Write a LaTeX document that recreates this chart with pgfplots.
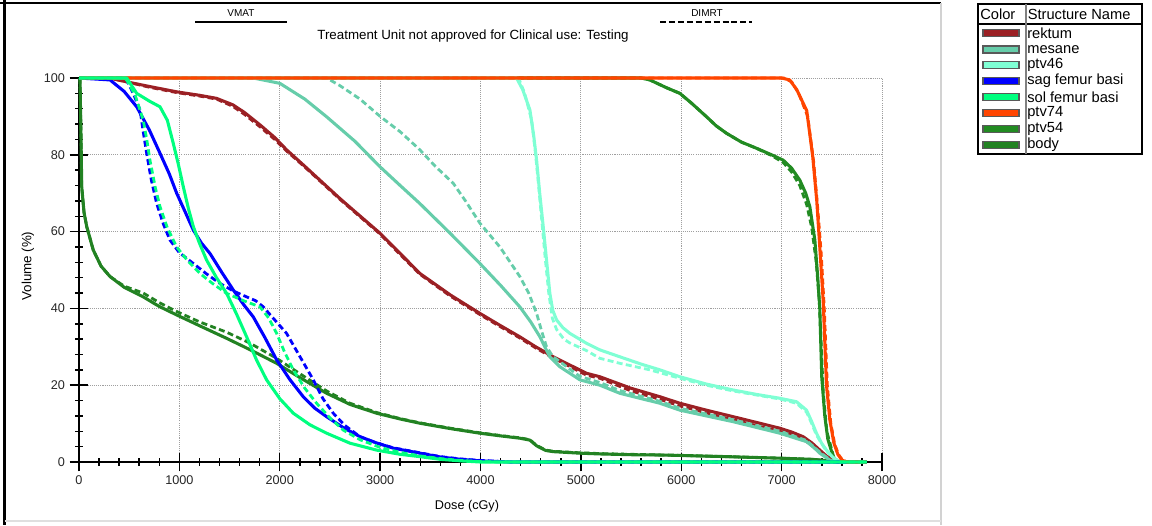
\documentclass[border=0pt]{standalone}
\usepackage{pgfplots}
\pgfplotsset{compat=1.18}
\usepackage{fontspec}
\setmainfont{Liberation Sans}

\definecolor{rektum}{RGB}{155,32,36}
\definecolor{mesane}{RGB}{102,205,170}
\definecolor{ptvfs}{RGB}{127,255,212}
\definecolor{sagf}{RGB}{0,0,255}
\definecolor{solf}{RGB}{0,255,127}
\definecolor{ptvss}{RGB}{255,69,0}
\definecolor{ptvff}{RGB}{34,139,34}
\definecolor{body}{RGB}{34,130,34}

\begin{document}
\begin{tikzpicture}
\useasboundingbox (0,0) rectangle (864pt,-393.75pt);

% ---------- dose-volume histogram ----------
\begin{axis}[
  at={(59.25pt,-346.5pt)}, anchor=south west,
  scale only axis, width=602.25pt, height=288pt,
  xmin=0, xmax=8000, ymin=0, ymax=100,
  axis lines=left, axis line style={-, line width=1.1pt, black},
  xtick={0,1000,...,8000}, ytick={0,20,...,100},
  minor x tick num=4, minor y tick num=4,
  tick align=center, major tick length=14pt, minor tick length=5.5pt,
  every tick/.style={black, line width=1.1pt},
  grid=major,
  major grid style={gray!75, line width=0.6pt, dash pattern=on 0.8pt off 0.8pt},
  ticklabel style={font=\fontsize{9.5}{10}\selectfont, text=black!85},
  /pgf/number format/assume math mode=true,
  /pgf/number format/1000 sep={},
  clip=false,
  every axis plot/.append style={line join=round, line cap=butt},
]
\pgfplotsset{
  vmat/.style={line width=2.3pt},
  dimrt/.style={line width=2.1pt, dash pattern=on 4.5pt off 2.5pt},
}

% body
\addplot[body, vmat] coordinates {(0,100)(10,99.5)(20,85)(27,71.7)(50,65)(77,61.3)(142,55.2)(220,51)(309,48.3)(450,45.5)(640,43)(800,40.5)(973,38.3)(1200,35.5)(1471,32.2)(1700,29.3)(1969,25.7)(2200,22)(2467,17.9)(2700,15)(2965,12.7)(3200,11.2)(3396,10.1)(3700,8.7)(3994,7.5)(4200,6.8)(4392,6.2)(4492,5.7)(4560,4.2)(4650,3)(4724,2.7)(4990,2.3)(5189,2.1)(5500,1.9)(5853,1.8)(6451,1.4)(6982,1)(7300,0.7)(7480,0.3)(7560,0)(7850,0)};
\addplot[body, dimrt] coordinates {(0,100)(10,99.5)(20,85)(27,71.7)(50,65)(77,61.3)(142,55.2)(220,51)(309,48.3)(450,45.8)(640,44)(800,41.5)(973,39.2)(1200,36.5)(1471,33.8)(1700,31)(1969,27)(2200,23)(2467,18.5)(2700,15.3)(2965,12.9)(3200,11.3)(3396,10.2)(3700,8.8)(3994,7.6)(4200,6.9)(4392,6.3)(4492,5.8)(4560,4.3)(4650,3.1)(4724,2.8)(4990,2.4)(5189,2.2)(5500,2)(5853,1.8)(6451,1.4)(6982,1)(7300,0.7)(7480,0.3)(7560,0)(7850,0)};

% ptv54
\addplot[ptvff, vmat] coordinates {(0,100)(5600,100)(5687,99.5)(5850,97.5)(5986,96)(6100,93.5)(6252,89.9)(6350,87.5)(6451,85.6)(6600,83.3)(6750,81.7)(6900,80)(7016,78.6)(7100,76.5)(7181,73.4)(7240,70)(7281,66.5)(7331,57.8)(7360,48)(7380,40)(7400,22)(7430,12)(7460,6)(7513,1.4)(7560,0)(7850,0)};
\addplot[ptvff, dimrt] coordinates {(0,100)(5600,100)(5687,99.5)(5850,97.5)(5986,96)(6100,93.5)(6252,89.9)(6350,87.5)(6451,85.6)(6600,83.3)(6750,81.7)(6900,79.8)(7016,78)(7100,75.5)(7181,72)(7250,67)(7300,61)(7345,52)(7375,42)(7395,30)(7415,18)(7450,8)(7520,1.2)(7570,0)(7850,0)};

% rektum
\addplot[rektum, vmat] coordinates {(0,100)(300,100)(475,99)(700,97.8)(973,96.4)(1200,95.5)(1371,94.7)(1534,93)(1650,91)(1803,87.8)(1950,84.5)(2068,81.3)(2250,77)(2400,73.4)(2600,68.6)(2732,65.6)(2998,59.6)(3200,54.3)(3396,49.1)(3700,43.5)(3994,38.7)(4200,35.5)(4392,32.6)(4550,30)(4724,27.4)(5057,23.1)(5189,22.2)(5500,19.2)(5787,17)(5986,15.3)(6250,13.5)(6517,11.8)(6750,10.3)(6982,8.8)(7100,7.8)(7214,6.6)(7300,5)(7380,3.1)(7450,1.5)(7513,0.5)(7560,0)(7850,0)};
\addplot[rektum, dimrt] coordinates {(0,100)(300,100)(475,99)(700,97.6)(973,96.2)(1200,95.3)(1371,94.5)(1534,92.6)(1650,90.5)(1803,87.3)(1950,84)(2068,81)(2250,76.8)(2400,73.2)(2600,68.4)(2732,65.4)(2998,59.4)(3200,54)(3396,48.9)(3700,43.2)(3994,38.4)(4200,35.2)(4392,32.3)(4550,29.7)(4724,27.1)(5057,22.6)(5189,21.8)(5500,18.5)(5787,16.3)(5986,14.6)(6250,12.8)(6517,11)(6750,9.5)(6982,8)(7100,7.1)(7214,6)(7300,4.3)(7380,2.6)(7450,1.2)(7513,0.3)(7560,0)(7850,0)};

% mesane
\addplot[mesane, vmat] coordinates {(0,100)(1737,100)(2002,98.6)(2250,94.5)(2467,89.9)(2750,83.5)(2998,76.9)(3200,72)(3396,67.3)(3700,59.5)(3994,51.7)(4200,46)(4392,40.4)(4500,36.5)(4592,32.6)(4650,29.5)(4691,27.4)(4791,24.8)(4990,21.4)(5189,20)(5388,17.9)(5787,15.3)(5986,13.5)(6250,12)(6517,10.5)(6750,9)(6982,7.5)(7248,5.3)(7320,3.8)(7380,2.3)(7480,0.5)(7530,0)(7850,0)};
\addplot[mesane, dimrt] coordinates {(0,100)(2467,100)(2600,98)(2800,94.5)(3000,90)(3200,86)(3396,81.3)(3550,77)(3728,72.6)(3850,68)(3994,62.2)(4193,56)(4392,48.3)(4480,44)(4559,38.7)(4610,34)(4658,30)(4720,27.5)(4791,26.1)(4990,22.3)(5189,20.7)(5388,18.6)(5787,15.8)(5986,14)(6517,11)(6982,8)(7248,5.6)(7380,2.6)(7480,0.6)(7540,0)(7850,0)};

% ptv46
\addplot[ptvfs, vmat] coordinates {(0,100)(4359,100)(4420,97)(4492,91.7)(4530,85)(4559,78.6)(4590,70)(4625,61.3)(4660,52)(4691,43.9)(4720,39.5)(4758,37)(4820,35)(4890,33.5)(5057,30.9)(5189,29.2)(5388,27.4)(5600,25.5)(5787,24)(5986,22.2)(6250,20.3)(6517,18.75)(6750,17.6)(6982,16.6)(7148,15.7)(7248,13.5)(7300,10.5)(7347,7.5)(7400,4.8)(7447,3.1)(7500,1.5)(7546,0.5)(7600,0)(7850,0)};
\addplot[ptvfs, dimrt] coordinates {(0,100)(4380,100)(4440,96)(4510,89)(4545,81)(4575,73)(4610,63)(4645,53)(4680,44)(4715,37.5)(4758,34.5)(4830,32)(4890,31)(5057,29)(5189,27)(5388,25.7)(5687,24)(5986,21.8)(6250,20)(6517,18.5)(6982,16.4)(7148,15.3)(7248,13)(7300,10)(7347,7)(7447,2.8)(7546,0.4)(7600,0)(7850,0)};

% sag femur basi
\addplot[sagf, vmat] coordinates {(0,100)(309,99.5)(450,96.5)(575,92.5)(700,86.5)(807,80.4)(900,75)(973,70)(1060,65)(1139,60.4)(1220,57)(1305,54.3)(1420,49.5)(1537,44.8)(1640,41)(1736,37.8)(1850,32.5)(1969,26.6)(2100,21.5)(2234,17)(2350,14)(2467,11.8)(2630,9)(2799,6.6)(2960,5)(3131,3.6)(3396,2.3)(3600,1.3)(3800,0.7)(4000,0.3)(4300,0)(7850,0)};
\addplot[sagf, dimrt] coordinates {(0,100)(420,100)(475,99.5)(540,96)(608,91.7)(640,86)(674,80.4)(720,73.5)(774,67.3)(840,62)(906,57.8)(1000,54.5)(1139,51.7)(1270,49)(1404,46.5)(1540,44.5)(1670,43)(1760,42)(1836,40.4)(1950,37)(2068,33.5)(2200,27.5)(2334,21.4)(2430,16.5)(2533,12.7)(2650,9.5)(2799,6.6)(2960,5)(3131,3.7)(3396,2.4)(3600,1.4)(3800,0.8)(4000,0.4)(4300,0)(7850,0)};

% ptv74
\addplot[ptvss, vmat] coordinates {(0,100)(7000,100)(7080,99.5)(7150,97)(7250,91.5)(7310,79.5)(7350,68)(7380,56)(7414,42)(7447,20)(7480,11)(7520,5)(7560,2)(7600,0.5)(7650,0)(7850,0)};
\addplot[ptvss, dimrt] coordinates {(0,100)(7020,100)(7100,99)(7170,96)(7260,90)(7320,78)(7360,66)(7395,54)(7425,40)(7455,20)(7490,10)(7530,4.5)(7570,1.8)(7610,0.4)(7660,0)(7850,0)};

% sol femur basi
\addplot[solf, dimrt] coordinates {(0,100)(420,100)(475,99.5)(560,95.5)(640,89)(675,84)(707,78.6)(760,71.5)(807,66.5)(880,61)(973,56)(1080,52.5)(1205,49.1)(1330,46.5)(1471,43.9)(1640,42)(1803,40.4)(1890,37.5)(1969,33.5)(2050,28.5)(2135,24)(2250,19.2)(2367,15.3)(2500,11.5)(2633,8.3)(2800,5.8)(3000,3.8)(3200,2.5)(3396,1.6)(3600,0.9)(3800,0.4)(4000,0.1)(4200,0)(7850,0)};
\addplot[solf, vmat] coordinates {(0,100)(475,100)(575,96)(700,94)(807,92.5)(880,89)(939,83)(990,77.5)(1039,71.7)(1090,66)(1139,61.3)(1200,57)(1271,52.6)(1370,48)(1471,43.9)(1570,38.5)(1670,32.6)(1770,26.5)(1869,21.4)(2000,16.5)(2135,12.7)(2300,9.7)(2467,7.5)(2700,4.9)(2965,3.1)(3200,2)(3396,1.4)(3600,0.7)(3800,0.3)(4000,0)(7850,0)};
\end{axis}

% ---------- frame, captions and structure table (pixel grid) ----------
\begin{scope}[x=0.75pt, y=-0.75pt]
  % outer frame
  \draw[black, line width=1.5pt] (0,3) -- (941,3);
  \draw[black, line width=2.2pt] (4.5,0) -- (4.5,525);
  \draw[gray!35, line width=1pt] (941,3) -- (941,525);
  \draw[gray!25, line width=1pt] (4.5,521) -- (941,521);

  % plan captions
  \node[font=\fontsize{7.5}{8}\selectfont] at (241,13) {VMAT};
  \draw[black, line width=1.6pt] (195,22) -- (287,22);
  \node[font=\fontsize{7.5}{8}\selectfont] at (707,13) {DIMRT};
  \draw[black, line width=1.6pt, dash pattern=on 4.5pt off 2.2pt] (660,22) -- (752,22);
  \node[font=\fontsize{10}{11}\selectfont] at (473,36) {Treatment Unit not approved for Clinical use: Testing};

  % axis titles
  \node[font=\fontsize{9.5}{10}\selectfont] at (467,506) {Dose (cGy)};
  \node[font=\fontsize{10}{11}\selectfont, rotate=90] at (28,266) {Volume (\%)};

  % structure table
  \draw[black, line width=1.5pt] (978,4) rectangle (1142,154);
  \draw[black, line width=1pt] (978,24) -- (1142,24);
  \draw[gray, line width=1.3pt] (1026,4) -- (1026,154);
  \node[anchor=west, font=\fontsize{11}{12}\selectfont, inner sep=0pt] at (980,14) {Color};
  \node[anchor=west, font=\fontsize{11}{12}\selectfont, inner sep=0pt] at (1027.5,14) {Structure Name};
  \foreach \c/\n/\yy in {rektum/rektum/33, mesane/mesane/49.5, ptvfs/ptv46/65, sagf/sag femur basi/81, solf/sol femur basi/97, ptvss/ptv74/113, ptvff/ptv54/129, body/body/145}{
    \draw[fill=\c, draw=black!65, line width=0.8pt] (983,\yy-3.5) rectangle (1019,\yy+3.5);
    \node[anchor=west, font=\fontsize{11}{12}\selectfont, inner sep=0pt] at (1027,\yy) {\n};
  }
\end{scope}
\end{tikzpicture}
\end{document}
